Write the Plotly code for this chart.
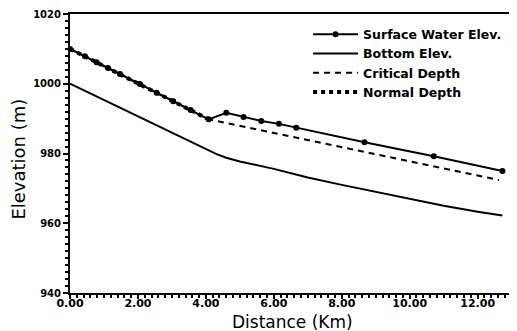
import plotly.graph_objects as go

# Surface water elevation (supercritical reach, then after hydraulic jump)
surf_x = [0.0, 0.44, 0.78, 1.12, 1.47, 2.06, 2.55, 3.04, 3.55, 4.08,
          4.60, 5.11, 5.63, 6.15, 6.66, 8.67, 10.71, 12.73]
surf_y = [1010.0, 1007.9, 1006.2, 1004.5, 1002.8, 999.9, 997.4, 995.0, 992.5, 989.8,
          991.7, 990.5, 989.3, 988.5, 987.4, 983.2, 979.2, 975.0]

bottom_x = [0.0, 1.0, 2.0, 3.0, 3.5, 4.0, 4.3, 4.6, 5.0, 6.0, 7.0, 8.0, 9.0, 10.0, 11.0, 12.0, 12.73]
bottom_y = [1000.0, 995.3, 990.6, 985.9, 983.5, 981.2, 979.9, 978.8, 977.7, 975.6,
            973.1, 971.0, 969.0, 967.0, 965.0, 963.3, 962.2]

crit_x = [0.0, 4.08, 12.63]
crit_y = [1010.0, 989.8, 972.4]

normal_x = [0.0, 4.08]
normal_y = [1010.0, 989.8]

x_title = "Distance (Km)"
y_title = "Elevation (m)"

fig = go.Figure()
fig.add_trace(go.Scatter(x=surf_x, y=surf_y, mode="lines+markers", name="Surface Water Elev.",
                         line=dict(color="black", width=2), marker=dict(color="black", size=6)))
fig.add_trace(go.Scatter(x=bottom_x, y=bottom_y, mode="lines", name="Bottom Elev.",
                         line=dict(color="black", width=2)))
fig.add_trace(go.Scatter(x=crit_x, y=crit_y, mode="lines", name="Critical Depth",
                         line=dict(color="black", width=2, dash="6px,5px")))
fig.add_trace(go.Scatter(x=normal_x, y=normal_y, mode="lines", name="Normal Depth",
                         line=dict(color="black", width=4, dash="dot")))

font = "DejaVu Sans"
# page body has an 8px margin, so the figure is 8px smaller and shifted
fig.update_layout(
    width=509, height=323,
    margin=dict(l=62, r=2, t=6, b=38),
    paper_bgcolor="white", plot_bgcolor="white",
    showlegend=True,
    legend=dict(x=0.535, y=0.98, xanchor="left", yanchor="top",
                bgcolor="rgba(0,0,0,0)", tracegroupgap=0,
                font=dict(family=font, size=12.5, color="black", weight="bold"),
                itemwidth=45),
    xaxis=dict(range=[0, 13.1], tickmode="linear", tick0=0, dtick=2, tickformat=".2f",
               automargin=False,
               showgrid=False, zeroline=False, showline=True, linecolor="black", linewidth=2,
               mirror=True, ticks="outside", ticklen=4, tickwidth=2, tickcolor="black",
               ticklabelstandoff=-5,
               minor=dict(tickmode="linear", tick0=0, dtick=0.2, ticks="outside", ticklen=3,
                          tickwidth=1.5, tickcolor="black", showgrid=False),
               tickfont=dict(family=font, size=11, color="black", weight="bold")),
    yaxis=dict(range=[940, 1020], tickmode="linear", tick0=940, dtick=20,
               automargin=False,
               showgrid=False, zeroline=False, showline=True, linecolor="black", linewidth=2,
               mirror=True, ticks="outside", ticklen=5, tickwidth=2, tickcolor="black",
               minor=dict(tickmode="linear", tick0=940, dtick=2, ticks="outside", ticklen=3,
                          tickwidth=1.5, tickcolor="black", showgrid=False),
               tickfont=dict(family=font, size=10, color="black", weight="bold")),
    annotations=[
        dict(text=x_title, xref="paper", yref="paper", x=0.5, y=0, yshift=-40,
             xanchor="center", yanchor="bottom", showarrow=False, borderpad=0,
             font=dict(family=font, size=17, color="black")),
        dict(text=y_title, xref="paper", yref="paper", x=0, xshift=-64, y=0.48,
             xanchor="left", yanchor="middle", textangle=-90, showarrow=False,
             font=dict(family=font, size=18, color="black")),
    ],
)

fig.write_html("out.html")
